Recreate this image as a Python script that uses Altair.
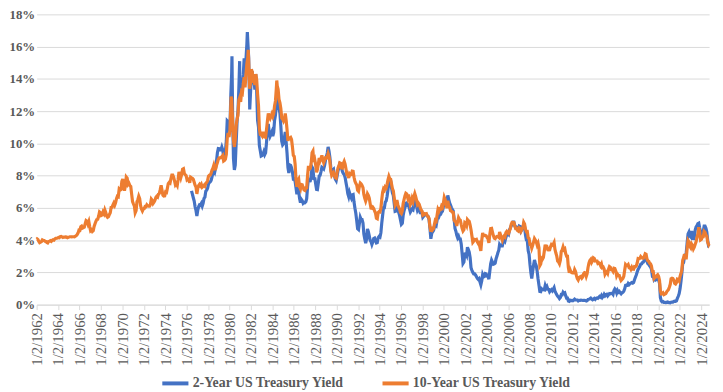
import altair as alt
import pandas as pd

# ---- 10-Year yield, monthly, Jan 1962 onward (%)
t10_1960s = [
    4.08, 4.04, 3.93, 3.84, 3.87, 3.91, 4.01, 3.98, 3.98, 3.93, 3.92, 3.86,
    3.83, 3.92, 3.93, 3.97, 3.93, 3.99, 4.02, 4.00, 4.08, 4.11, 4.12, 4.13,
    4.17, 4.15, 4.22, 4.23, 4.20, 4.17, 4.19, 4.19, 4.20, 4.19, 4.15, 4.18,
    4.19, 4.21, 4.21, 4.20, 4.21, 4.21, 4.20, 4.25, 4.29, 4.35, 4.45, 4.62,
    4.61, 4.83, 4.87, 4.75, 4.78, 4.81, 5.02, 5.22, 5.18, 5.01, 5.16, 4.84,
    4.58, 4.63, 4.54, 4.59, 4.85, 5.02, 5.16, 5.28, 5.30, 5.48, 5.75, 5.70,
    5.53, 5.56, 5.74, 5.64, 5.87, 5.72, 5.50, 5.42, 5.46, 5.58, 5.70, 6.03,
    6.04, 6.19, 6.30, 6.17, 6.32, 6.57, 6.72, 6.69, 7.16, 7.10, 7.14, 7.65,
]
t10_1970s = [
    7.79, 7.24, 7.07, 7.39, 7.91, 7.84, 7.46, 7.53, 7.39, 7.33, 6.84, 6.39,
    6.24, 6.11, 5.70, 5.83, 6.39, 6.52, 6.73, 6.58, 6.14, 5.93, 5.81, 5.93,
    5.95, 6.08, 6.07, 6.19, 6.13, 6.11, 6.11, 6.21, 6.55, 6.48, 6.28, 6.36,
    6.46, 6.64, 6.71, 6.67, 6.85, 6.90, 7.13, 7.40, 7.09, 6.79, 6.73, 6.74,
    6.99, 6.96, 7.21, 7.51, 7.58, 7.54, 7.81, 8.04, 8.04, 7.90, 7.68, 7.43,
    7.50, 7.39, 7.73, 8.23, 8.06, 7.86, 8.06, 8.40, 8.43, 8.14, 8.05, 8.00,
    7.74, 7.79, 7.73, 7.56, 7.90, 7.86, 7.83, 7.77, 7.59, 7.41, 7.29, 6.87,
    7.21, 7.39, 7.46, 7.37, 7.46, 7.28, 7.33, 7.40, 7.34, 7.52, 7.58, 7.69,
    7.96, 8.03, 8.04, 8.15, 8.35, 8.46, 8.64, 8.41, 8.42, 8.64, 8.81, 9.01,
    9.10, 9.10, 9.12, 9.18, 9.25, 8.91, 8.95, 9.03, 9.33, 10.30, 10.65, 10.39,
]
t10_1980s = [
    10.80, 12.41, 12.75, 11.47, 10.18, 9.78, 10.25, 11.10, 11.51, 11.75, 12.68, 12.84,
    12.57, 13.19, 13.12, 13.68, 14.10, 13.47, 14.28, 14.94, 15.32, 15.15, 13.39, 13.72,
    14.59, 14.43, 13.86, 13.87, 13.62, 14.30, 13.95, 13.06, 12.34, 10.91, 10.55, 10.54,
    10.46, 10.72, 10.51, 10.40, 10.38, 10.85, 11.38, 11.85, 11.65, 11.54, 11.69, 11.83,
    11.67, 11.84, 12.32, 12.63, 13.41, 13.56, 13.36, 12.72, 12.52, 12.16, 11.57, 11.50,
    11.38, 11.51, 11.86, 11.43, 10.85, 10.16, 10.31, 10.33, 10.37, 10.24, 9.78, 9.26,
    9.19, 8.70, 7.78, 7.30, 7.71, 7.80, 7.30, 7.17, 7.45, 7.43, 7.25, 7.11,
    7.08, 7.25, 7.25, 8.02, 8.61, 8.40, 8.45, 8.76, 9.42, 9.52, 8.86, 8.99,
    8.67, 8.21, 8.37, 8.72, 9.09, 8.92, 9.06, 9.26, 8.98, 8.80, 8.96, 9.11,
    9.09, 9.17, 9.36, 9.18, 8.86, 8.28, 8.02, 8.11, 8.19, 8.01, 7.87, 7.84,
]
t10_1990s = [
    8.21, 8.47, 8.59, 8.79, 8.76, 8.48, 8.47, 8.75, 8.89, 8.72, 8.39, 8.08,
    8.09, 7.85, 8.11, 8.04, 8.07, 8.28, 8.27, 7.90, 7.65, 7.53, 7.42, 7.09,
    7.03, 7.34, 7.54, 7.48, 7.39, 7.26, 6.84, 6.59, 6.42, 6.59, 6.87, 6.77,
    6.60, 6.26, 5.98, 5.97, 6.04, 5.96, 5.81, 5.68, 5.36, 5.33, 5.72, 5.77,
    5.75, 5.97, 6.48, 6.97, 7.18, 7.10, 7.30, 7.24, 7.46, 7.74, 7.96, 7.81,
    7.78, 7.47, 7.20, 7.06, 6.63, 6.17, 6.28, 6.49, 6.20, 6.04, 5.93, 5.71,
    5.65, 5.81, 6.27, 6.51, 6.74, 6.91, 6.87, 6.64, 6.83, 6.53, 6.20, 6.30,
    6.58, 6.42, 6.69, 6.89, 6.71, 6.49, 6.22, 6.30, 6.21, 6.03, 5.88, 5.81,
    5.54, 5.57, 5.65, 5.64, 5.65, 5.50, 5.46, 5.34, 4.81, 4.53, 4.83, 4.65,
    4.72, 5.00, 5.23, 5.18, 5.54, 5.90, 5.79, 5.94, 5.92, 6.11, 6.03, 6.28,
]
t10_2000s = [
    6.66, 6.52, 6.26, 5.99, 6.44, 6.10, 6.05, 5.83, 5.80, 5.74, 5.72, 5.24,
    5.16, 5.10, 4.89, 5.14, 5.39, 5.28, 5.24, 4.97, 4.73, 4.57, 4.65, 5.09,
    5.04, 4.91, 5.28, 5.21, 5.16, 4.93, 4.65, 4.26, 3.87, 3.94, 4.05, 4.03,
    4.05, 3.90, 3.81, 3.96, 3.57, 3.33, 3.98, 4.45, 4.27, 4.29, 4.30, 4.27,
    4.15, 4.08, 3.83, 4.35, 4.72, 4.73, 4.50, 4.28, 4.13, 4.10, 4.19, 4.23,
    4.22, 4.17, 4.50, 4.34, 4.14, 4.00, 4.18, 4.26, 4.20, 4.46, 4.54, 4.47,
    4.42, 4.57, 4.72, 4.99, 5.11, 5.11, 5.09, 4.88, 4.72, 4.73, 4.60, 4.56,
    4.76, 4.72, 4.56, 4.69, 4.75, 5.10, 5.00, 4.67, 4.52, 4.53, 4.15, 4.10,
    3.74, 3.74, 3.51, 3.68, 3.88, 4.10, 4.01, 3.89, 3.69, 3.81, 3.53, 2.42,
    2.52, 2.87, 2.82, 2.93, 3.29, 3.72, 3.56, 3.59, 3.40, 3.39, 3.40, 3.59,
]
t10_2010s = [
    3.73, 3.69, 3.73, 3.85, 3.42, 3.20, 3.01, 2.70, 2.65, 2.54, 2.76, 3.29,
    3.39, 3.58, 3.41, 3.46, 3.17, 3.00, 3.00, 2.30, 1.98, 2.15, 2.01, 1.98,
    1.97, 1.97, 2.17, 2.05, 1.80, 1.62, 1.53, 1.68, 1.72, 1.75, 1.65, 1.72,
    1.91, 1.98, 1.96, 1.76, 1.93, 2.30, 2.58, 2.74, 2.81, 2.62, 2.72, 2.90,
    2.86, 2.71, 2.72, 2.71, 2.56, 2.60, 2.54, 2.42, 2.53, 2.30, 2.33, 2.21,
    1.88, 1.98, 2.04, 1.94, 2.20, 2.36, 2.32, 2.17, 2.17, 2.07, 2.26, 2.24,
    2.09, 1.78, 1.89, 1.81, 1.81, 1.64, 1.50, 1.56, 1.63, 1.76, 2.14, 2.49,
    2.43, 2.42, 2.48, 2.30, 2.30, 2.19, 2.32, 2.21, 2.20, 2.36, 2.35, 2.40,
    2.58, 2.86, 2.84, 2.87, 2.98, 2.91, 2.89, 2.89, 3.00, 3.15, 3.12, 2.83,
    2.71, 2.68, 2.57, 2.53, 2.40, 2.07, 2.06, 1.63, 1.70, 1.71, 1.81, 1.86,
]
t10_2020s = [
    1.76, 1.50, 0.87, 0.66, 0.67, 0.73, 0.62, 0.65, 0.68, 0.79, 0.87, 0.93,
    1.08, 1.26, 1.61, 1.64, 1.62, 1.52, 1.32, 1.28, 1.37, 1.58, 1.56, 1.47,
    1.76, 1.93, 2.13, 2.75, 2.90, 3.14, 2.90, 2.90, 3.52, 3.98, 3.89, 3.62,
    3.53, 3.75, 3.66, 3.46, 3.57, 3.75, 3.90, 4.17, 4.38, 4.80, 4.50, 4.02,
    4.06, 4.21, 4.21, 4.54, 4.48, 4.31, 4.25, 3.87, 3.72,
]

# ---- 2-Year yield, monthly, Jun 1976 onward (%)
t2_1970s = [
    7.06, 6.85, 6.63, 6.42, 6.07, 5.84, 5.50,
    5.87, 6.08, 6.19, 6.16, 6.27, 6.11, 6.28, 6.59, 6.67, 7.04, 7.10, 7.22,
    7.48, 7.58, 7.61, 7.71, 7.92, 8.18, 8.33, 8.22, 8.47, 8.90, 9.42, 9.68,
    9.67, 9.59, 9.59, 9.77, 9.60, 9.16, 9.19, 9.52, 10.15, 11.40, 11.34, 10.82,
]
t2_1980s = [
    10.82, 13.01, 14.34, 11.93, 9.07, 8.35, 8.65, 10.04, 11.36, 11.99, 13.41, 14.01,
    13.01, 14.02, 13.70, 14.26, 15.28, 14.35, 15.20, 16.15, 16.34, 15.34, 12.76, 13.05,
    14.14, 14.47, 13.81, 13.85, 13.33, 14.30, 13.26, 11.42, 11.02, 9.86, 9.54, 9.22,
    9.25, 9.33, 9.48, 9.30, 9.41, 10.03, 10.78, 11.20, 10.71, 10.44, 10.57, 10.71,
    10.45, 10.68, 11.42, 11.76, 12.37, 12.66, 12.55, 12.16, 11.85, 11.09, 10.13, 9.91,
    9.99, 10.37, 10.71, 10.07, 9.39, 8.50, 8.16, 8.66, 8.63, 8.49, 8.22, 7.80,
    7.81, 7.63, 7.27, 6.84, 7.16, 7.06, 6.60, 6.33, 6.53, 6.45, 6.29, 6.35,
    6.33, 6.39, 6.57, 7.31, 7.82, 7.67, 7.68, 7.96, 8.53, 8.43, 7.73, 7.88,
    7.49, 7.14, 7.13, 7.54, 7.98, 8.02, 8.24, 8.52, 8.48, 8.42, 8.64, 8.96,
    9.18, 9.40, 9.78, 9.51, 9.12, 8.49, 8.08, 8.35, 8.40, 8.01, 7.78, 7.69,
]
t2_1990s = [
    7.98, 8.30, 8.48, 8.75, 8.73, 8.47, 8.26, 8.13, 8.08, 7.88, 7.56, 7.27,
    6.89, 6.70, 6.93, 6.74, 6.61, 6.81, 6.83, 6.36, 5.98, 5.67, 5.20, 4.71,
    4.66, 5.04, 5.42, 5.28, 5.28, 5.07, 4.38, 4.07, 3.82, 4.05, 4.70, 4.53,
    4.27, 3.99, 3.91, 3.73, 3.88, 4.10, 4.13, 3.96, 3.83, 3.85, 4.16, 4.23,
    4.19, 4.46, 5.03, 5.53, 6.01, 6.01, 6.36, 6.44, 6.72, 7.12, 7.64, 7.73,
    7.67, 7.21, 6.93, 6.77, 6.29, 5.79, 5.81, 6.05, 5.86, 5.72, 5.52, 5.26,
    4.98, 5.04, 5.53, 5.82, 6.04, 6.29, 6.31, 6.07, 6.28, 5.95, 5.74, 5.84,
    5.94, 5.89, 6.17, 6.42, 6.31, 6.09, 5.85, 5.96, 5.87, 5.71, 5.72, 5.72,
    5.42, 5.49, 5.56, 5.57, 5.57, 5.52, 5.46, 5.27, 4.71, 4.08, 4.43, 4.51,
    4.60, 4.83, 4.99, 4.92, 5.24, 5.51, 5.45, 5.61, 5.61, 5.74, 5.80, 6.06,
]
t2_2000s = [
    6.34, 6.49, 6.50, 6.38, 6.77, 6.53, 6.31, 6.17, 6.02, 5.90, 5.82, 5.34,
    4.73, 4.55, 4.31, 4.14, 4.24, 4.07, 4.07, 3.77, 3.16, 2.55, 2.64, 3.14,
    3.16, 3.05, 3.56, 3.42, 3.26, 2.91, 2.29, 2.13, 2.00, 1.91, 1.91, 1.84,
    1.74, 1.63, 1.57, 1.62, 1.42, 1.23, 1.47, 1.86, 1.72, 1.75, 1.93, 1.91,
    1.76, 1.74, 1.58, 2.07, 2.53, 2.76, 2.64, 2.51, 2.53, 2.58, 2.85, 3.01,
    3.22, 3.38, 3.73, 3.65, 3.64, 3.64, 3.87, 4.04, 3.95, 4.17, 4.33, 4.41,
    4.35, 4.64, 4.74, 4.89, 4.97, 5.12, 5.12, 4.90, 4.77, 4.80, 4.74, 4.67,
    4.88, 4.85, 4.57, 4.67, 4.77, 4.98, 4.82, 4.31, 4.01, 3.97, 3.34, 3.12,
    2.48, 1.97, 1.62, 2.05, 2.45, 2.77, 2.57, 2.42, 2.08, 1.61, 1.21, 0.82,
    0.81, 0.98, 0.93, 0.93, 0.92, 1.18, 1.02, 1.12, 0.96, 0.95, 0.80, 0.87,
]
t2_2010s = [
    0.93, 0.86, 0.96, 1.06, 0.83, 0.72, 0.62, 0.52, 0.47, 0.38, 0.45, 0.62,
    0.61, 0.77, 0.70, 0.73, 0.56, 0.41, 0.41, 0.23, 0.21, 0.28, 0.25, 0.26,
    0.24, 0.28, 0.34, 0.29, 0.29, 0.29, 0.23, 0.27, 0.26, 0.28, 0.27, 0.26,
    0.27, 0.27, 0.26, 0.23, 0.25, 0.33, 0.34, 0.36, 0.40, 0.34, 0.30, 0.34,
    0.39, 0.33, 0.40, 0.42, 0.39, 0.45, 0.51, 0.47, 0.57, 0.45, 0.53, 0.64,
    0.55, 0.62, 0.64, 0.54, 0.61, 0.69, 0.67, 0.70, 0.71, 0.64, 0.88, 0.98,
    0.90, 0.73, 0.88, 0.77, 0.82, 0.73, 0.67, 0.74, 0.77, 0.84, 0.98, 1.20,
    1.21, 1.20, 1.31, 1.24, 1.30, 1.34, 1.37, 1.34, 1.38, 1.55, 1.70, 1.84,
    2.03, 2.18, 2.28, 2.38, 2.51, 2.53, 2.61, 2.64, 2.77, 2.86, 2.86, 2.68,
    2.54, 2.50, 2.41, 2.34, 2.21, 1.81, 1.84, 1.57, 1.65, 1.55, 1.61, 1.61,
]
t2_2020s = [
    1.52, 1.33, 0.45, 0.23, 0.17, 0.19, 0.14, 0.14, 0.13, 0.14, 0.17, 0.14,
    0.13, 0.12, 0.15, 0.16, 0.16, 0.20, 0.22, 0.21, 0.24, 0.39, 0.52, 0.68,
    0.98, 1.44, 1.91, 2.54, 2.61, 2.99, 2.99, 3.25, 3.86, 4.38, 4.50, 4.29,
    4.21, 4.56, 4.38, 4.02, 4.18, 4.63, 4.82, 4.90, 5.03, 5.06, 4.77, 4.53,
    4.32, 4.49, 4.55, 4.87, 4.87, 4.74, 4.50, 3.97, 3.62,
]

# ---- daily extremes
t2_extra_dates = ["1980-03-25", "1980-12-12", "1981-08-31", "1981-11-20", "2024-09-30"]
t2_extra_vals = [15.4, 15.1, 16.9, 12.1, 3.62]
t10_extra_dates = ["1962-01-02", "1980-02-26", "1981-09-30", "1984-05-30", "2024-09-30"]
t10_extra_vals = [4.06, 12.9, 15.8, 13.9, 3.78]

S2 = "2-Year US Treasury Yield"
S10 = "10-Year US Treasury Yield"


def monthly(start, values):
    d = pd.date_range(start, periods=len(values), freq="MS") + pd.Timedelta(days=14)
    return pd.DataFrame({"date": d, "value": values})


t10_vals = t10_1960s + t10_1970s + t10_1980s + t10_1990s + t10_2000s + t10_2010s + t10_2020s
t2_vals = t2_1970s + t2_1980s + t2_1990s + t2_2000s + t2_2010s + t2_2020s

d10 = pd.concat([monthly("1962-01-01", t10_vals),
                 pd.DataFrame({"date": pd.to_datetime(t10_extra_dates), "value": t10_extra_vals})])
d10 = d10.sort_values("date")
d10["series"] = S10
d2 = pd.concat([monthly("1976-06-01", t2_vals),
                pd.DataFrame({"date": pd.to_datetime(t2_extra_dates), "value": t2_extra_vals})])
d2 = d2.sort_values("date")
d2["series"] = S2
df = pd.concat([d2, d10], ignore_index=True)
df["order"] = range(len(df))

tick_dates = [alt.DateTime(year=y, month=1, date=2) for y in range(1962, 2025, 2)]

FONT = "Liberation Serif"
GREY = "#595959"
GRID = "#d9d9d9"

chart = alt.Chart(df).mark_line(strokeWidth=3.2).encode(
    x=alt.X(
        "date:T",
        scale=alt.Scale(
            domain=[alt.DateTime(year=1962, month=1, date=2), alt.DateTime(year=2024, month=9, date=30)],
            nice=False,
        ),
        axis=alt.Axis(
            values=tick_dates, format="%-m/%-d/%Y", labelAngle=-90, grid=False,
            tickSize=5, tickColor=GRID, domainColor=GRID, labelColor=GREY,
            labelFont=FONT, labelFontSize=15, labelPadding=3, title=None,
        ),
    ),
    y=alt.Y(
        "value:Q",
        scale=alt.Scale(domain=[0, 18], nice=False),
        axis=alt.Axis(
            values=list(range(0, 19, 2)), labelExpr="datum.value + '%'",
            domain=False, ticks=False, gridColor=GRID, labelColor=GREY,
            labelFont=FONT, labelFontSize=13, labelFontWeight="bold",
            labelPadding=2, title=None,
        ),
    ),
    color=alt.Color(
        "series:N",
        scale=alt.Scale(domain=[S2, S10], range=["#4472C4", "#ED7D31"]),
        legend=alt.Legend(
            orient="none", legendX=125, legendY=358, direction="horizontal",
            title=None, symbolType="stroke", symbolStrokeWidth=4, symbolSize=700,
            labelFont=FONT, labelFontSize=14, labelFontWeight="bold",
            labelColor=GREY, columnPadding=30, labelOffset=2, labelLimit=400,
        ),
    ),
    order="order:Q",
).properties(
    width=681,
    height=294,
    autosize=alt.AutoSizeParams(type="none"),
    padding={"left": 29, "top": 4, "right": 6, "bottom": 86},
).configure_view(stroke=None)

chart.save("out.html", embed_options={"renderer": "svg", "actions": False})
